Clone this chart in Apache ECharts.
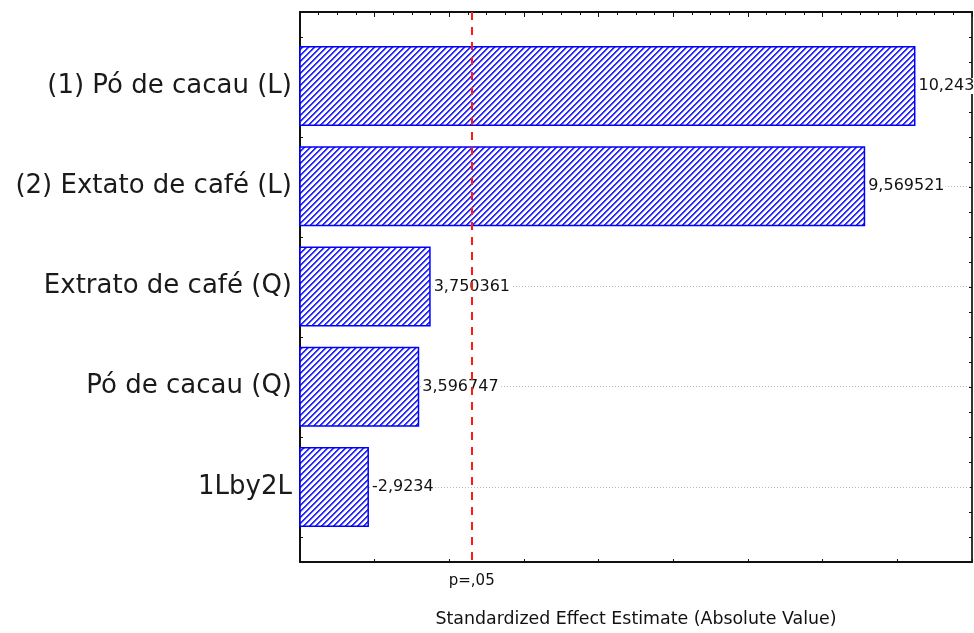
<!DOCTYPE html>
<html><head><meta charset="utf-8">
<script src="https://cdn.jsdelivr.net/npm/echarts@6/dist/echarts.min.js"></script>
<style>html,body{margin:0;padding:0;background:#fff}#c{width:974px;height:633px}</style>
</head><body><div id="c"></div>
<script>
// ---- data ----
var categories = ['(1) Pó de cacau (L)', '(2) Extato de café (L)', 'Extrato de café (Q)', 'Pó de cacau (Q)', '1Lby2L'];
var effects = [10.24303, 9.569521, 3.750361, 3.596747, -2.9234];
var pCritical = 4.303;
var pLabel = 'p=,05';
var xTitle = 'Standardized Effect Estimate (Absolute Value)';

// hatch pattern
var pc = document.createElement('canvas');
pc.width = 12; pc.height = 12;
var g = pc.getContext('2d');
g.fillStyle = '#ffffff'; g.fillRect(0, 0, 12, 12);
for (var x = 0; x < 12; x++) for (var y = 0; y < 12; y++) {
  var m = (x + y) % 6;
  if (m === 0 || m === 1) { g.fillStyle = '#2a2aff'; g.fillRect(x, y, 1, 1); }
  else if (m === 2) { g.fillStyle = '#a8a8ff'; g.fillRect(x, y, 1, 1); }
}

var font = 'DejaVu Sans, Verdana, sans-serif';
var chart = echarts.init(document.getElementById('c'));
chart.setOption({
  animation: false,
  grid: [
    {left: 300, right: 2, top: 12, bottom: 71, outerBoundsMode: 'none', containLabel: false},
    {left: 300, right: 2, top: 36, bottom: 96, outerBoundsMode: 'none', containLabel: false}
  ],
  xAxis: [
    {type: 'value', gridIndex: 0, min: 2, max: 11, interval: 1, position: 'bottom',
     axisLine: {show: true, onZero: false, lineStyle: {color: '#111', width: 2}},
     axisTick: {show: true, inside: true, length: 3, lineStyle: {color: '#111'}},
     axisLabel: {show: false}, splitLine: {show: false},
     name: xTitle, nameLocation: 'middle', nameGap: 49,
     nameTextStyle: {fontFamily: font, fontSize: 17.4, color: '#111'}},
    {type: 'value', gridIndex: 0, min: 2, max: 11, interval: 1, position: 'top',
     axisLine: {show: true, onZero: false, lineStyle: {color: '#111', width: 2}},
     axisTick: {show: true, inside: true, length: 5, lineStyle: {color: '#111'}},
     minorTick: {show: true, splitNumber: 4, length: 3, lineStyle: {color: '#111'}},
     axisLabel: {show: false}, splitLine: {show: false}},
    {type: 'value', gridIndex: 1, min: 2, max: 11, show: false}
  ],
  yAxis: [
    {type: 'value', gridIndex: 0, min: 0, max: 22, interval: 1, inverse: true, position: 'left',
     axisLine: {show: true, onZero: false, lineStyle: {color: '#111', width: 2}},
     axisTick: {show: true, inside: true, length: 3, lineStyle: {color: '#111'}},
     axisLabel: {show: false}, splitLine: {show: false}},
    {type: 'value', gridIndex: 0, min: 0, max: 22, interval: 1, inverse: true, position: 'right',
     axisLine: {show: true, onZero: false, lineStyle: {color: '#333', width: 2}},
     axisTick: {show: true, inside: true, length: 3, lineStyle: {color: '#111'}},
     axisLabel: {show: false}, splitLine: {show: false}},
    {type: 'category', gridIndex: 1, data: categories, inverse: true,
     axisLine: {show: false}, axisTick: {show: false},
     axisLabel: {fontFamily: font, fontSize: 26, color: '#1a1a1a', margin: 8}}
  ],
  series: [
    {type: 'line', xAxisIndex: 2, yAxisIndex: 2, z: 1, data: [], silent: true,
     markLine: {z: 1, silent: true, symbol: 'none', label: {show: false},
       lineStyle: {color: '#bbbbbb', type: [1, 2], width: 1},
       data: categories.map(function (c) { return {yAxis: c}; })}},
    {type: 'bar', xAxisIndex: 2, yAxisIndex: 2, z: 3, barWidth: 80,
     data: effects.map(function (v) { return Math.abs(v); }),
     itemStyle: {color: {image: pc, repeat: 'repeat'}, borderColor: '#0000ff', borderWidth: 1.5},
     label: {show: true, position: 'right', distance: 2, fontFamily: font, fontSize: 16, color: '#111',
       backgroundColor: '#fff', padding: [0, 1],
       formatter: function (p) { return String(effects[p.dataIndex]).replace('.', ','); }}},
    {type: 'line', xAxisIndex: 0, yAxisIndex: 0, z: 10, data: [], silent: true,
     markLine: {z: 20, silent: true, symbol: 'none',
       lineStyle: {color: '#ff1a1a', type: [8, 7], width: 2},
       label: {show: true, position: 'end', formatter: pLabel, distance: 12,
         fontFamily: font, fontSize: 15, color: '#111'},
       data: [{xAxis: pCritical}]}}
  ]
});
</script></body></html>
